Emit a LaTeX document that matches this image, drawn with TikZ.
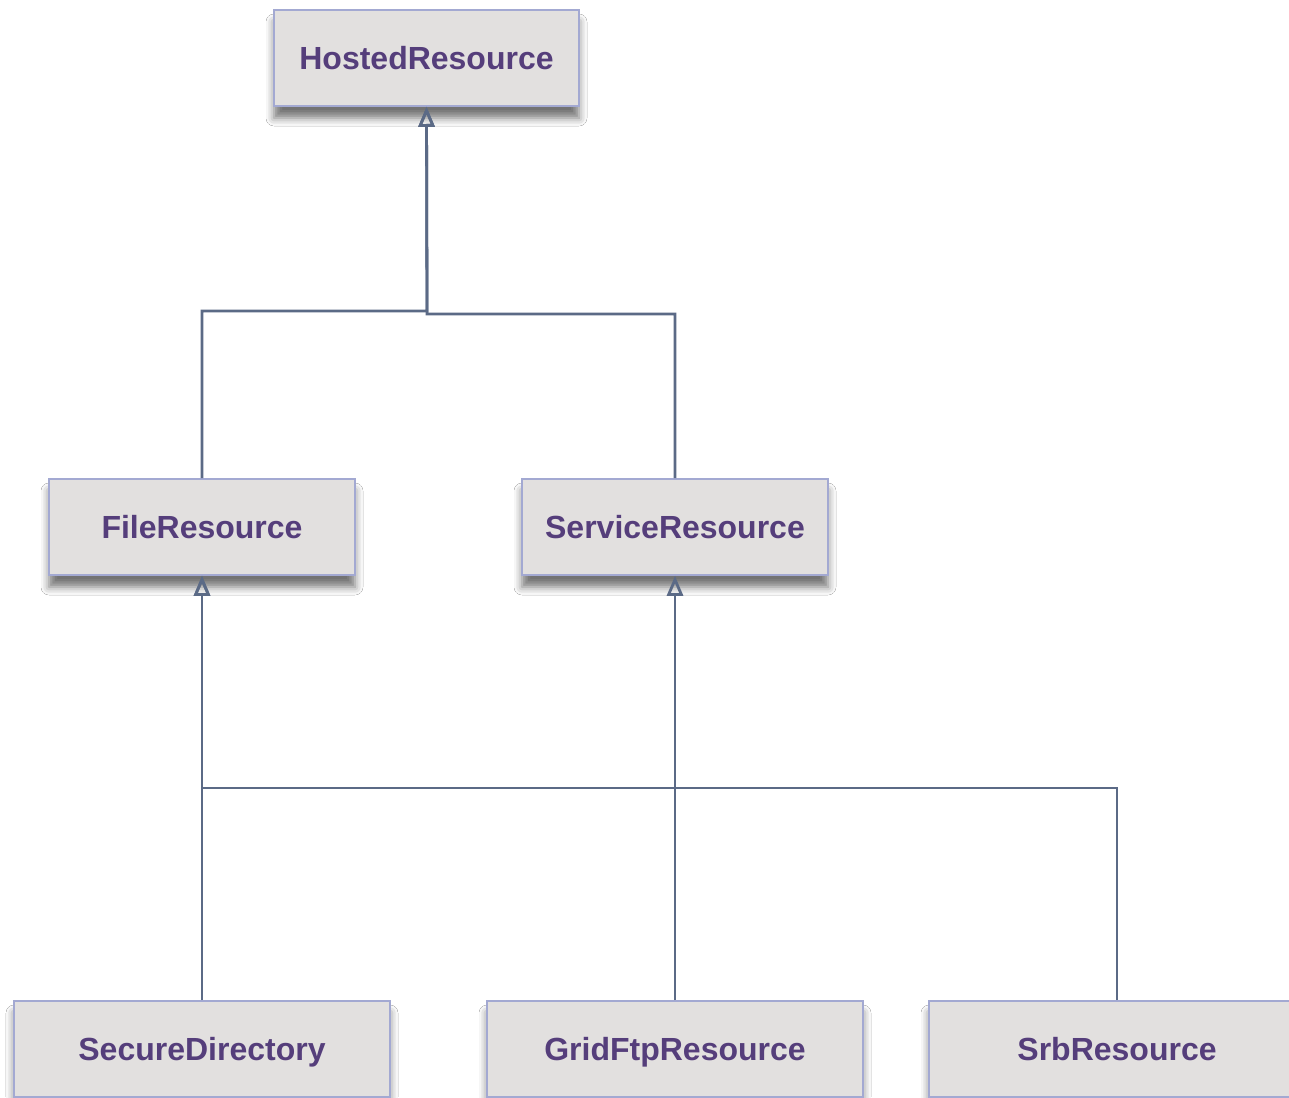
\documentclass[tikz,border=0pt]{standalone}
\usepackage{fontspec}
\setmainfont{Liberation Sans}
\usepackage{xcolor}
\usetikzlibrary{arrows.meta,shadows,shadows.blur}

\definecolor{boxfill}{HTML}{E2E0DF}
\definecolor{boxline}{HTML}{A3A9D2}
\definecolor{classtext}{HTML}{553E7B}
\definecolor{wire}{HTML}{5B6A86}

\tikzset{
  classbox/.style={draw=boxline, line width=0.8pt, fill=boxfill,
    minimum width=#1, minimum height=48pt, inner sep=0pt,
    text height=12.6pt, text depth=1.5pt,
    font=\bfseries\fontsize{16}{18}\selectfont, text=classtext,
    blur shadow={shadow xshift=0pt, shadow yshift=-6pt,
      shadow blur radius=4pt, shadow opacity=55}},
  inherit/.style={draw=wire, line width=1.4pt,
    -{Triangle[open, length=10pt, width=8pt]}}
}

\begin{document}
\begin{tikzpicture}[x=0.5pt, y=-0.5pt]
  \clip (0,0) rectangle (1289,1097);
  \fill[white] (0,0) rectangle (1289,1097);

  % classes
  \node[classbox=152.5pt] (hosted)  at (426.5,58)  {HostedResource};
  \node[classbox=153pt]   (file)    at (202,527)   {FileResource};
  \node[classbox=153pt]   (service) at (675,527)   {ServiceResource};
  \node[classbox=188pt]   (secure)  at (202,1049)  {SecureDirectory};
  \node[classbox=188pt]   (gridftp) at (675,1049)  {GridFtpResource};
  \node[classbox=188pt]   (srb)     at (1117,1049) {SrbResource};

  % joints
  \coordinate (upjoinL) at (427,311);
  \coordinate (upjoinR) at (427,314);
  \coordinate (lowjoin) at (202,788);

  % generalisations
  \draw[inherit] (file.north) |- (upjoinL) -- (hosted.south);
  \draw[inherit] (service.north) |- (upjoinR) -- (hosted.south);
  \draw[inherit] (secure.north) -- (file.south);
  \draw[inherit] (srb.north) |- (lowjoin) -- (file.south);
  \draw[inherit] (gridftp.north) -- (service.south);
\end{tikzpicture}
\end{document}
